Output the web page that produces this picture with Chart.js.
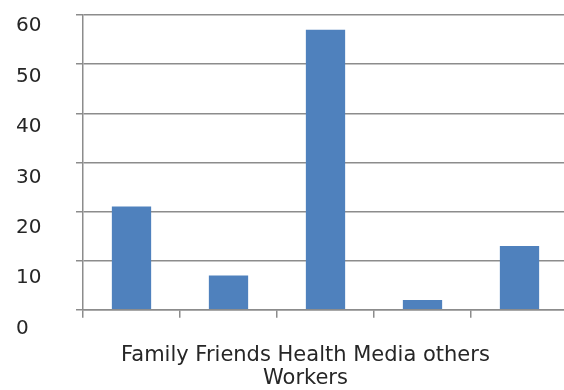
<!DOCTYPE html>
<html>
<head>
<meta charset="utf-8">
<script src="https://cdn.jsdelivr.net/npm/chart.js@4/dist/chart.umd.min.js"></script>
<style>
  html, body { margin: 0; padding: 0; background: #fff; overflow: hidden; }
</style>
</head>
<body>
<canvas id="sourceChart" width="570" height="390"></canvas>
<script>
// who people got their information from (%)
const categories = ['Family', 'Friends', 'Health Workers', 'Media', 'others'];
const shares = [21, 7, 57, 2, 13];
const yTicks = [0, 10, 20, 30, 40, 50, 60];

const gridGrey = '#8c8c8c';
const textGrey = '#262626';

// category names run together under the axis, second words wrap onto a new line
const firstWords = categories.map(c => c.split(' ')[0]).join(' ');
const restWords = categories.map(c => c.split(' ').slice(1).join(' ')).filter(Boolean).join(' ');
const nudge = ' '.repeat(6); // trailing spaces pull the centred title a bit left

const fixedTicks = scale => {
    scale.ticks = yTicks.map(v => ({ value: v }));
};

const ctx = document.getElementById('sourceChart').getContext('2d');

new Chart(ctx, {
    type: 'bar',
    data: {
        labels: categories,
        datasets: [{
            data: shares,
            backgroundColor: '#4f81bd',
            borderWidth: 0,
            barPercentage: 0.405,
            categoryPercentage: 1
        }]
    },
    options: {
        responsive: false,
        animation: false,
        layout: { padding: { left: 16, top: 14, right: 2, bottom: 0 } },
        plugins: {
            legend: { display: false },
            tooltip: { enabled: false }
        },
        scales: {
            x: {
                offset: true,
                grid: {
                    offset: true,
                    drawOnChartArea: false,
                    drawTicks: true,
                    tickLength: 8,
                    color: gridGrey,
                    lineWidth: 1.5
                },
                border: { display: true, color: gridGrey, width: 1.5 },
                ticks: { display: false },
                title: {
                    display: true,
                    text: [firstWords + nudge, restWords + nudge],
                    color: textGrey,
                    font: { family: 'DejaVu Sans', size: 21, lineHeight: 1.1 },
                    padding: { top: 26, bottom: 0 }
                }
            },
            // value axis: gridlines and tick marks only
            y: {
                min: 0,
                max: 60,
                weight: 0,
                afterBuildTicks: fixedTicks,
                afterFit: scale => { scale.width = 7; },
                grid: {
                    color: gridGrey,
                    lineWidth: 1.5,
                    tickLength: 7
                },
                border: { display: true, color: gridGrey, width: 1.5 },
                ticks: { display: false }
            },
            // numbers sit a touch lower than their gridlines and spread a little wider
            yText: {
                type: 'linear',
                position: 'left',
                min: 3.75,
                max: 62.17,
                weight: 1,
                afterBuildTicks: fixedTicks,
                afterFit: scale => { scale.width = 60; },
                grid: { display: false },
                border: { display: false },
                ticks: {
                    crossAlign: 'far',
                    autoSkip: false,
                    color: textGrey,
                    font: { family: 'DejaVu Sans', size: 20 }
                }
            }
        }
    }
});
</script>
</body>
</html>
